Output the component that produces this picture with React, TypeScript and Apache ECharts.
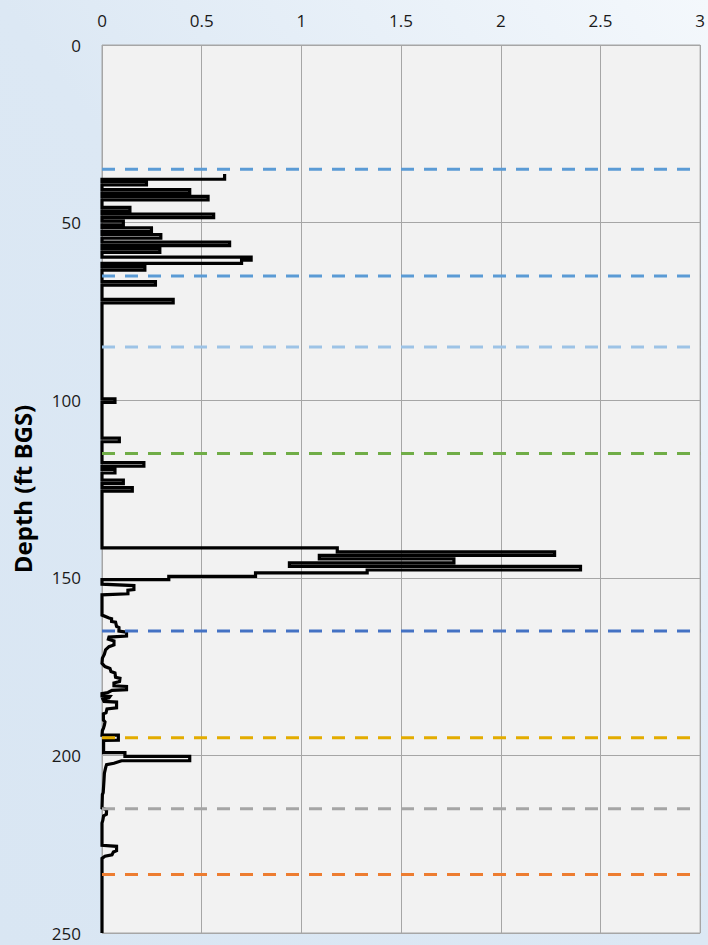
import React, { useEffect, useRef } from "react";
import * as echarts from "echarts";

// Log profile points: [depth (ft BGS), value]
const upperZone: [number, number][] = [
  [36.3, 0.615], [37.8, 0.615], [37.8, 0],
  [38.4, 0], [38.4, 0.223], [39.4, 0.223], [39.4, 0],
  [40.7, 0], [40.7, 0.44], [41.7, 0.44], [41.7, 0],
  [42.6, 0], [42.6, 0.532], [43.6, 0.532], [43.6, 0],
  [45.7, 0], [45.7, 0.14], [46.7, 0.14], [46.7, 0],
  [47.6, 0], [47.6, 0.56], [48.6, 0.56], [48.6, 0],
  [49.6, 0], [49.6, 0.107], [50.6, 0.107], [50.6, 0],
  [51.5, 0], [51.5, 0.248], [52.5, 0.248], [52.5, 0],
  [53.4, 0], [53.4, 0.295], [54.4, 0.295], [54.4, 0],
  [55.5, 0], [55.5, 0.64], [56.5, 0.64], [56.5, 0],
  [57.4, 0], [57.4, 0.29], [58.4, 0.29], [58.4, 0],
  [59.7, 0], [59.7, 0.748], [60.6, 0.748], [60.6, 0.7], [61.5, 0.7], [61.5, 0],
  [62.4, 0], [62.4, 0.215], [63.4, 0.215], [63.4, 0],
  [66.6, 0], [66.6, 0.268], [67.6, 0.268], [67.6, 0],
  [71.6, 0], [71.6, 0.357], [72.6, 0.357], [72.6, 0],
];

const middleZone: [number, number][] = [
  [99.6, 0], [99.6, 0.065], [100.6, 0.065], [100.6, 0],
  [110.7, 0], [110.7, 0.087], [111.7, 0.087], [111.7, 0],
  [117.6, 0], [117.6, 0.21], [118.6, 0.21], [118.6, 0],
  [119.5, 0], [119.5, 0.065], [120.5, 0.065], [120.5, 0],
  [122.5, 0], [122.5, 0.107], [123.5, 0.107], [123.5, 0],
  [124.6, 0], [124.6, 0.152], [125.6, 0.152], [125.6, 0],
];

const peakZone: [number, number][] = [
  [141.6, 0], [141.6, 1.18], [142.7, 1.18], [142.7, 2.27], [143.7, 2.27],
  [143.7, 1.09], [144.7, 1.09], [144.7, 1.765], [145.8, 1.765], [145.8, 0.94],
  [146.8, 0.94], [146.8, 2.4], [147.8, 2.4], [147.8, 1.33], [148.6, 1.33],
  [148.6, 0.77], [149.6, 0.77], [149.6, 0.335], [150.5, 0.335], [150.5, 0],
  [151.8, 0], [152.2, 0.16], [153.3, 0.16], [153.5, 0.13], [154.5, 0.13], [154.8, 0],
];

const noisyZone: [number, number][] = [
  [160.5, 0], [161.3, 0.035], [161.5, 0.048], [162.3, 0.048], [162.5, 0.068],
  [163.7, 0.073], [164.0, 0.085], [165.0, 0.085], [165.3, 0.123], [166.4, 0.123],
  [166.7, 0.035], [167.3, 0.032], [167.8, 0.06], [168.9, 0.06], [169.4, 0.035],
  [170.3, 0.018], [171.5, 0.012], [172.6, 0.002], [174.1, 0], [175.0, 0.015],
  [175.5, 0.04], [176.4, 0.045], [176.8, 0.065], [178.0, 0.068], [178.3, 0.09],
  [179.2, 0.088], [179.6, 0.06], [180.4, 0.06], [180.6, 0.123], [181.5, 0.123],
  [181.7, 0.05], [182.3, 0.03], [182.6, 0], [183.3, 0], [183.4, 0.04],
  [183.8, 0.035], [184.2, 0.005], [184.8, 0.01], [185.0, 0.073], [186.6, 0.073],
  [186.9, 0.025], [188.0, 0.02], [188.3, 0.007], [190.0, 0.007],
];

const lowerZone: [number, number][] = [
  [190.6, 0.015], [191.5, 0.012], [192.4, 0.007], [193.0, 0.002], [194.3, 0],
  [194.3, 0.082], [195.7, 0.082], [195.8, 0.008], [199.2, 0.008], [199.2, 0.115],
  [200.3, 0.115], [200.3, 0.44], [201.5, 0.44], [201.5, 0.098], [202.2, 0.06],
  [202.6, 0.023], [203.5, 0.018], [205.0, 0.012], [207.0, 0.01], [210.5, 0.006],
  [211.0, 0.002], [214.8, 0], [215.3, 0.023], [216.6, 0.022], [217.0, 0.008],
  [218.3, 0.004], [219.0, 0], [225.3, 0], [225.6, 0.073], [226.8, 0.073],
  [227.2, 0.057], [228.0, 0.05], [228.4, 0.015], [229.0, 0], [250, 0],
];

// Horizontal boundary markers
const boundaryDepths = [35, 65, 85, 115, 165, 195, 215, 233.5];
const boundaryColors = [
  "#5b9bd5", "#5b9bd5", "#9dc3e6", "#70ad47",
  "#4472c4", "#e3ac00", "#a5a5a5", "#ed7d31",
];

const xRange = [0, 3];
const depthRange = [0, 250];
const axisTitle = "Depth (ft BGS)";

export default function App() {
  const ref = useRef<HTMLDivElement>(null);

  useEffect(() => {
    if (!ref.current) return;
    const chart = echarts.init(ref.current, undefined, { renderer: "svg" });
    const profile = [...upperZone, ...middleZone, ...peakZone, ...noisyZone, ...lowerZone]
      .map(([d, v]) => [v, d]);

    const labelStyle = {
      fontFamily: "Open Sans",
      fontSize: 17,
      color: "#1a1a1a",
    };
    const gridLine = { lineStyle: { color: "#a6a6a6", width: 1 } };

    const series: any[] = [
      {
        type: "line",
        data: profile,
        symbol: "none",
        showSymbol: false,
        clip: false,
        lineStyle: { color: "#000", width: 3.2, join: "miter" },
        z: 2,
        silent: true,
      },
    ];
    boundaryDepths.forEach((d, i) => {
      series.push({
        type: "line",
        data: [[xRange[0], d], [xRange[1], d]],
        symbol: "none",
        showSymbol: false,
        lineStyle: { color: boundaryColors[i], width: 3, type: [13, 10] },
        z: 3,
        silent: true,
      });
    });

    chart.setOption({
      animation: false,
      backgroundColor: "transparent",
      grid: {
        left: 102,
        right: 6,
        top: 45,
        bottom: 12,
        show: true,
        backgroundColor: "#f2f2f2",
        borderColor: "#a6a6a6",
        borderWidth: 1,
      },
      xAxis: {
        type: "value",
        position: "top",
        min: xRange[0],
        max: xRange[1],
        interval: 0.5,
        axisLine: { show: false },
        axisTick: { show: false },
        axisLabel: { ...labelStyle, margin: 16 },
        splitLine: gridLine,
      },
      yAxis: {
        type: "value",
        inverse: true,
        min: depthRange[0],
        max: depthRange[1],
        interval: 50,
        axisLine: { show: false },
        axisTick: { show: false },
        axisLabel: { ...labelStyle, margin: 21 },
        splitLine: gridLine,
      },
      graphic: [
        {
          type: "text",
          x: 22,
          y: 489,
          rotation: Math.PI / 2,
          style: {
            text: axisTitle,
            font: 'bold 24px "Open Sans"',
            fill: "#000",
            align: "center",
            verticalAlign: "middle",
          },
        },
      ],
      series,
    });
    return () => chart.dispose();
  }, []);

  return (
    <div
      ref={ref}
      style={{
        position: "absolute",
        left: 0,
        top: 0,
        width: 708,
        height: 945,
        background:
          "linear-gradient(to bottom left, #f4f8fc 0%, #dce8f4 50%, #d9e6f3 100%)",
      }}
    />
  );
}
